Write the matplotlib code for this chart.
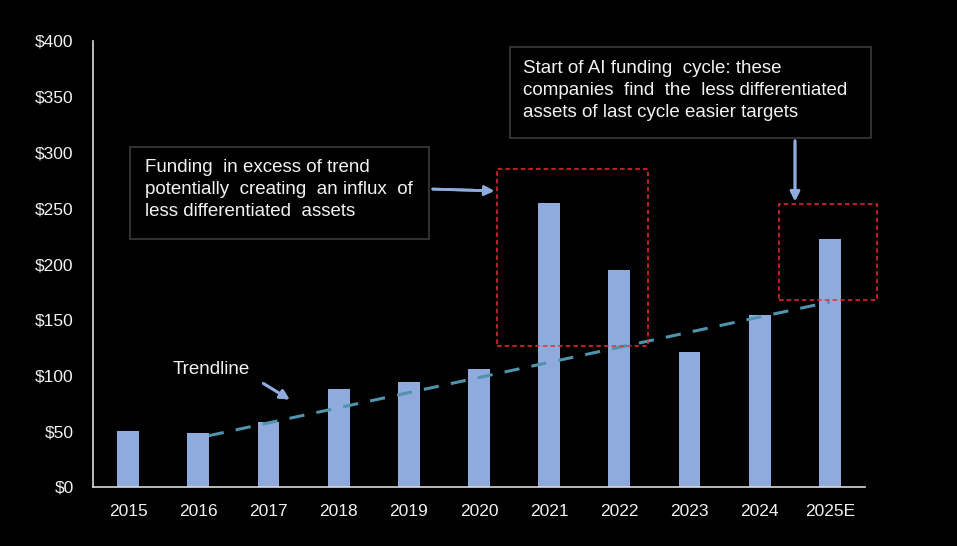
import matplotlib.pyplot as plt
from matplotlib.patches import Rectangle

years = ['2015', '2016', '2017', '2018', '2019', '2020', '2021', '2022', '2023', '2024', '2025E']
funding = [50, 48, 58, 88, 94, 106, 255, 195, 121, 154, 222]
trend_x = [1.15, 10.0]
trend_y = [46, 166]
y_ticks = [0, 50, 100, 150, 200, 250, 300, 350, 400]

bar_color = '#8faadc'
text_color = '#f2f2f2'

plt.rcParams['font.family'] = ['Liberation Sans', 'DejaVu Sans']

W, H = 957, 546
fig = plt.figure(figsize=(W / 100, H / 100), dpi=100, facecolor='black')
ax = fig.add_axes([93 / W, 1 - 487 / H, (865 - 93) / W, (487 - 41) / H])
ax.set_facecolor('black')

x = list(range(len(years)))
ax.bar(x, funding, width=0.31, color=bar_color, zorder=2)
ax.plot(trend_x, trend_y, linestyle=(0, (5, 4)), color='#4f93ad', linewidth=2.2, zorder=3)

ax.set_xlim(-0.5, 10.5)
ax.set_ylim(0, 400)
ax.set_xticks(x)
ax.set_xticklabels(years)
ax.set_yticks(y_ticks)
ax.set_yticklabels([f'${v}' for v in y_ticks])
ax.tick_params(length=0, colors=text_color, labelsize=12.5)
ax.tick_params(axis='y', pad=14)
ax.tick_params(axis='x', pad=12)
for s in ['top', 'right']:
    ax.spines[s].set_visible(False)
for s in ['left', 'bottom']:
    ax.spines[s].set_color('#d9d9d9')
    ax.spines[s].set_linewidth(1.2)

# red dashed highlight boxes
ax.add_patch(Rectangle((5.255, 126.5), 7.406 - 5.255, 285 - 126.5, fill=False,
                       edgecolor='#ee2b2b', linestyle=(0, (3, 2)), linewidth=1.1,
                       zorder=4, clip_on=False))
ax.add_patch(Rectangle((9.27, 168), 10.67 - 9.27, 254 - 168, fill=False,
                       edgecolor='#ee2b2b', linestyle=(0, (3, 2)), linewidth=1.1,
                       zorder=4, clip_on=False))


def fx(px):
    return px / W


def fy(py):
    return 1 - py / H


# text boxes in figure pixel coords
fig.patches.append(Rectangle((fx(130), fy(239)), fx(429) - fx(130), fy(147) - fy(239),
                             transform=fig.transFigure, fill=False,
                             edgecolor='#3a3a3a', linewidth=1.2))
fig.text(fx(145), fy(159),
         'Funding  in excess of trend\npotentially  creating  an influx  of\nless differentiated  assets',
         color=text_color, fontsize=13.5, va='top', ha='left', linespacing=1.38)

fig.patches.append(Rectangle((fx(510), fy(138)), fx(871) - fx(510), fy(47) - fy(138),
                             transform=fig.transFigure, fill=False,
                             edgecolor='#3a3a3a', linewidth=1.2))
fig.text(fx(523), fy(60),
         'Start of AI funding  cycle: these\ncompanies  find  the  less differentiated\nassets of last cycle easier targets',
         color=text_color, fontsize=13.5, va='top', ha='left', linespacing=1.38)

fig.text(fx(173), fy(369), 'Trendline', color=text_color, fontsize=13.5, va='center', ha='left')

arrow_style = dict(arrowstyle='-|>', color=bar_color, lw=2, mutation_scale=14)
fig.add_artist(plt.annotate('', xy=(fx(497), fy(191)), xytext=(fx(430), fy(189)),
                            xycoords='figure fraction', arrowprops=arrow_style))
fig.add_artist(plt.annotate('', xy=(fx(795), fy(204)), xytext=(fx(795), fy(138)),
                            xycoords='figure fraction', arrowprops=arrow_style))
fig.add_artist(plt.annotate('', xy=(fx(292), fy(401)), xytext=(fx(261), fy(382)),
                            xycoords='figure fraction', arrowprops=arrow_style))

fig.savefig('out.png', dpi=100, facecolor='black')
